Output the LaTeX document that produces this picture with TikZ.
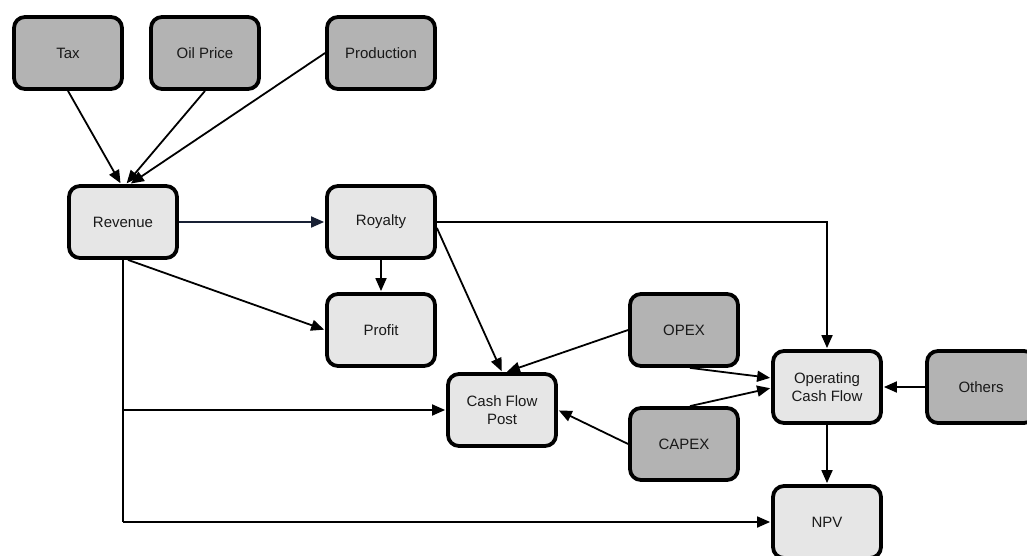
\documentclass[tikz,border=0pt]{standalone}
\usepackage{fontspec}
\setmainfont{Liberation Sans}
\usetikzlibrary{arrows.meta,calc}
\definecolor{inputfill}{RGB}{179,179,179}
\definecolor{calcfill}{RGB}{230,230,230}
\definecolor{navyline}{RGB}{24,32,52}
\begin{document}
\begin{tikzpicture}[x=1pt,y=-1pt,
  box/.style={draw=black,line width=3.8pt,rounded corners=11pt,
    minimum width=108pt,minimum height=72pt,align=center,
    font=\fontsize{15}{17.5}\selectfont,text=black!90},
  inputbox/.style={box,fill=inputfill},
  calcbox/.style={box,fill=calcfill},
  link/.style={line width=1.8pt,-{Triangle[length=13pt,width=11pt]},shorten >=1pt}]
\useasboundingbox (0,0) rectangle (1027,556);
\clip (0,0) rectangle (1027,556);

% driver inputs
\node[inputbox] (tax)    at (68,53)   {Tax};
\node[inputbox] (oil)    at (205,53)  {Oil Price};
\node[inputbox] (prod)   at (381,53)  {Production};
\node[inputbox] (opex)   at (684,330) {OPEX};
\node[inputbox] (capex)  at (684,444) {CAPEX};
\node[inputbox] (others) at (981,387) {Others};

% calculated quantities
\node[calcbox] (rev)    at (123,222) {Revenue};
\node[calcbox] (roy)    at (381,222) {Royalty};
\node[calcbox] (profit) at (381,330) {Profit};
\node[calcbox] (cfp)    at (502,410) {Cash Flow\\Post};
\node[calcbox] (ocf)    at (827,387) {Operating\\Cash Flow};
\node[calcbox] (npv)    at (827,522) {NPV};

% inputs feeding revenue
\draw[link] (tax.south) -- ($(rev.north)+(-2,0)$);
\draw[link] (oil.south) -- ($(rev.north)+(3,0)$);
\draw[link] (prod.west) -- ($(rev.north)+(7,0)$);

% revenue outputs
\draw[link,navyline] (rev.east) -- (roy.west);
\draw[link] ($(rev.south)+(5,0)$) -- (profit.west);
\draw[line width=1.8pt] (rev.south) -- (rev.south |- npv.west);
\draw[link] (rev.south |- cfp.west) -- (cfp.west);
\draw[link] (rev.south |- npv.west) -- (npv.west);

% royalty outputs
\draw[link] (roy.south) -- (profit.north);
\draw[link] ($(roy.east)+(0,6)$) -- (cfp.north);
\draw[link] (roy.east) -| (ocf.north);

% costs
\draw[link] (opex.west) -- ($(cfp.north)+(4,0)$);
\draw[link] (capex.west) -- (cfp.east);
\draw[link] ($(opex.south)+(6,0)$) -- ($(ocf.west)+(0,-9)$);
\draw[link] ($(capex.north)+(6,0)$) -- ($(ocf.west)+(0,1)$);
\draw[link] (others.west) -- (ocf.east);

% net present value
\draw[link] (ocf.south) -- (npv.north);
\end{tikzpicture}
\end{document}
